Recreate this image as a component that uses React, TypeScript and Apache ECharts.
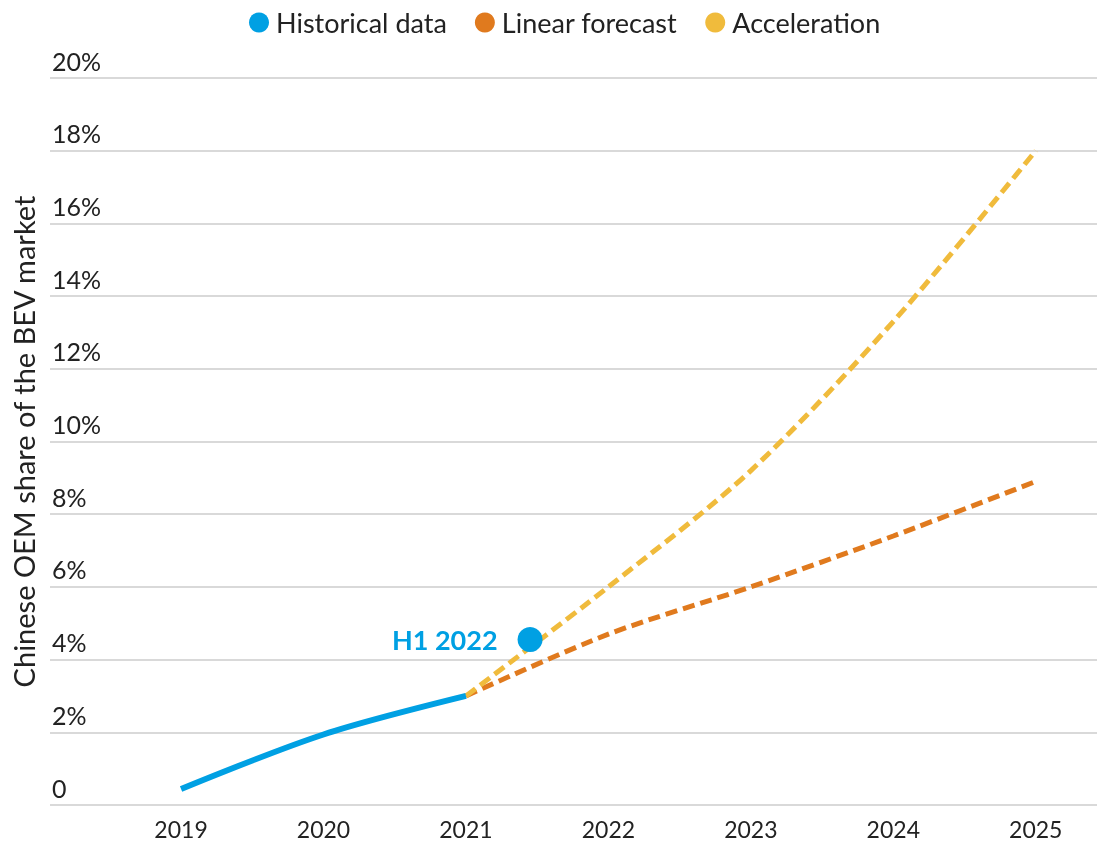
import React, { useEffect, useRef } from "react";
import * as echarts from "echarts";

const years = [2019, 2020, 2021, 2022, 2023, 2024, 2025];
const historicalYears = [2019, 2020, 2021];
const historicalValues = [0.44, 1.94, 3.0];
const forecastYears = [2021, 2022, 2023, 2024, 2025];
const linearValues = [3.0, 4.7, 6.0, 7.4, 8.9];
const accelerationValues = [3.0, 6.0, 9.2, 13.3, 18.0];
const h1Point = { year: 2021.45, value: 4.55, label: "H1 2022" };
const yTicks = { min: 0, max: 20, interval: 2 };

const BLUE = "#00a0e3";
const ORANGE = "#e07a1e";
const YELLOW = "#f0bb3c";
const FONT = "Lato, 'Noto Sans', sans-serif";

export default function App() {
  const ref = useRef<HTMLDivElement>(null);
  useEffect(() => {
    if (!ref.current) return;
    const chart = echarts.init(ref.current, null, { renderer: "svg" });
    const zip = (xs: number[], ys: number[]) => xs.map((x, i) => [x, ys[i]]);
    chart.setOption({
      animation: false,
      textStyle: { fontFamily: FONT },
      legend: {
        top: 4,
        left: 244,
        icon: "circle",
        itemWidth: 20,
        itemHeight: 20,
        itemGap: 28,
        data: ["Historical data", "Linear forecast", "Acceleration"],
        textStyle: { fontSize: 27, color: "#222", fontFamily: FONT, padding: [0, 0, 0, 2] },
      },
      grid: { left: 50, right: 0, top: 78, bottom: 38, containLabel: false },
      xAxis: {
        type: "value",
        min: 2018.08,
        max: 2025.43,
        axisLine: { show: false },
        axisTick: { show: false },
        splitLine: { show: false },
        axisLabel: {
          customValues: years,
          formatter: (v: number) => String(Math.round(v)),
          fontSize: 23,
          lineHeight: 24,
          color: "#222",
          margin: 12,
          fontFamily: FONT,
        },
      },
      yAxis: {
        type: "value",
        min: yTicks.min,
        max: yTicks.max,
        interval: yTicks.interval,
        name: "Chinese OEM share of the BEV market",
        nameLocation: "middle",
        nameGap: 12,
        nameTextStyle: { fontSize: 29, color: "#222", fontFamily: FONT },
        axisLine: { show: false },
        axisTick: { show: false },
        splitLine: { lineStyle: { color: "#d9d9d9", width: 2 } },
        axisLabel: {
          inside: true,
          margin: 2,
          verticalAlign: "bottom",
          padding: [0, 0, 5, 0],
          fontSize: 25,
          color: "#222",
          fontFamily: FONT,
          formatter: (v: number) => (v === 0 ? "0" : v + "%"),
        },
      },
      series: [
        {
          name: "Historical data",
          type: "line",
          data: zip(historicalYears, historicalValues),
          smooth: 0.3,
          showSymbol: false,
          itemStyle: { color: BLUE },
          lineStyle: { color: BLUE, width: 6 },
          z: 3,
        },
        {
          name: "Linear forecast",
          type: "line",
          data: zip(forecastYears, linearValues),
          smooth: 0.3,
          showSymbol: false,
          itemStyle: { color: ORANGE },
          lineStyle: { color: ORANGE, width: 5, type: [12, 6] },
          z: 2,
        },
        {
          name: "Acceleration",
          type: "line",
          data: zip(forecastYears, accelerationValues),
          smooth: 0.3,
          showSymbol: false,
          itemStyle: { color: YELLOW },
          lineStyle: { color: YELLOW, width: 5, type: [12, 6] },
          z: 2,
        },
        {
          name: h1Point.label,
          type: "scatter",
          data: [[h1Point.year, h1Point.value]],
          symbolSize: 25,
          itemStyle: { color: BLUE, opacity: 1 },
          label: {
            show: true,
            position: "left",
            distance: 20,
            formatter: h1Point.label,
            color: BLUE,
            fontSize: 27,
            fontWeight: "bold",
            fontFamily: FONT,
          },
          z: 4,
        },
      ],
    });
    return () => chart.dispose();
  }, []);
  return (
    <div
      ref={ref}
      style={{ position: "fixed", left: 0, top: 0, width: 1097, height: 843 }}
    />
  );
}
